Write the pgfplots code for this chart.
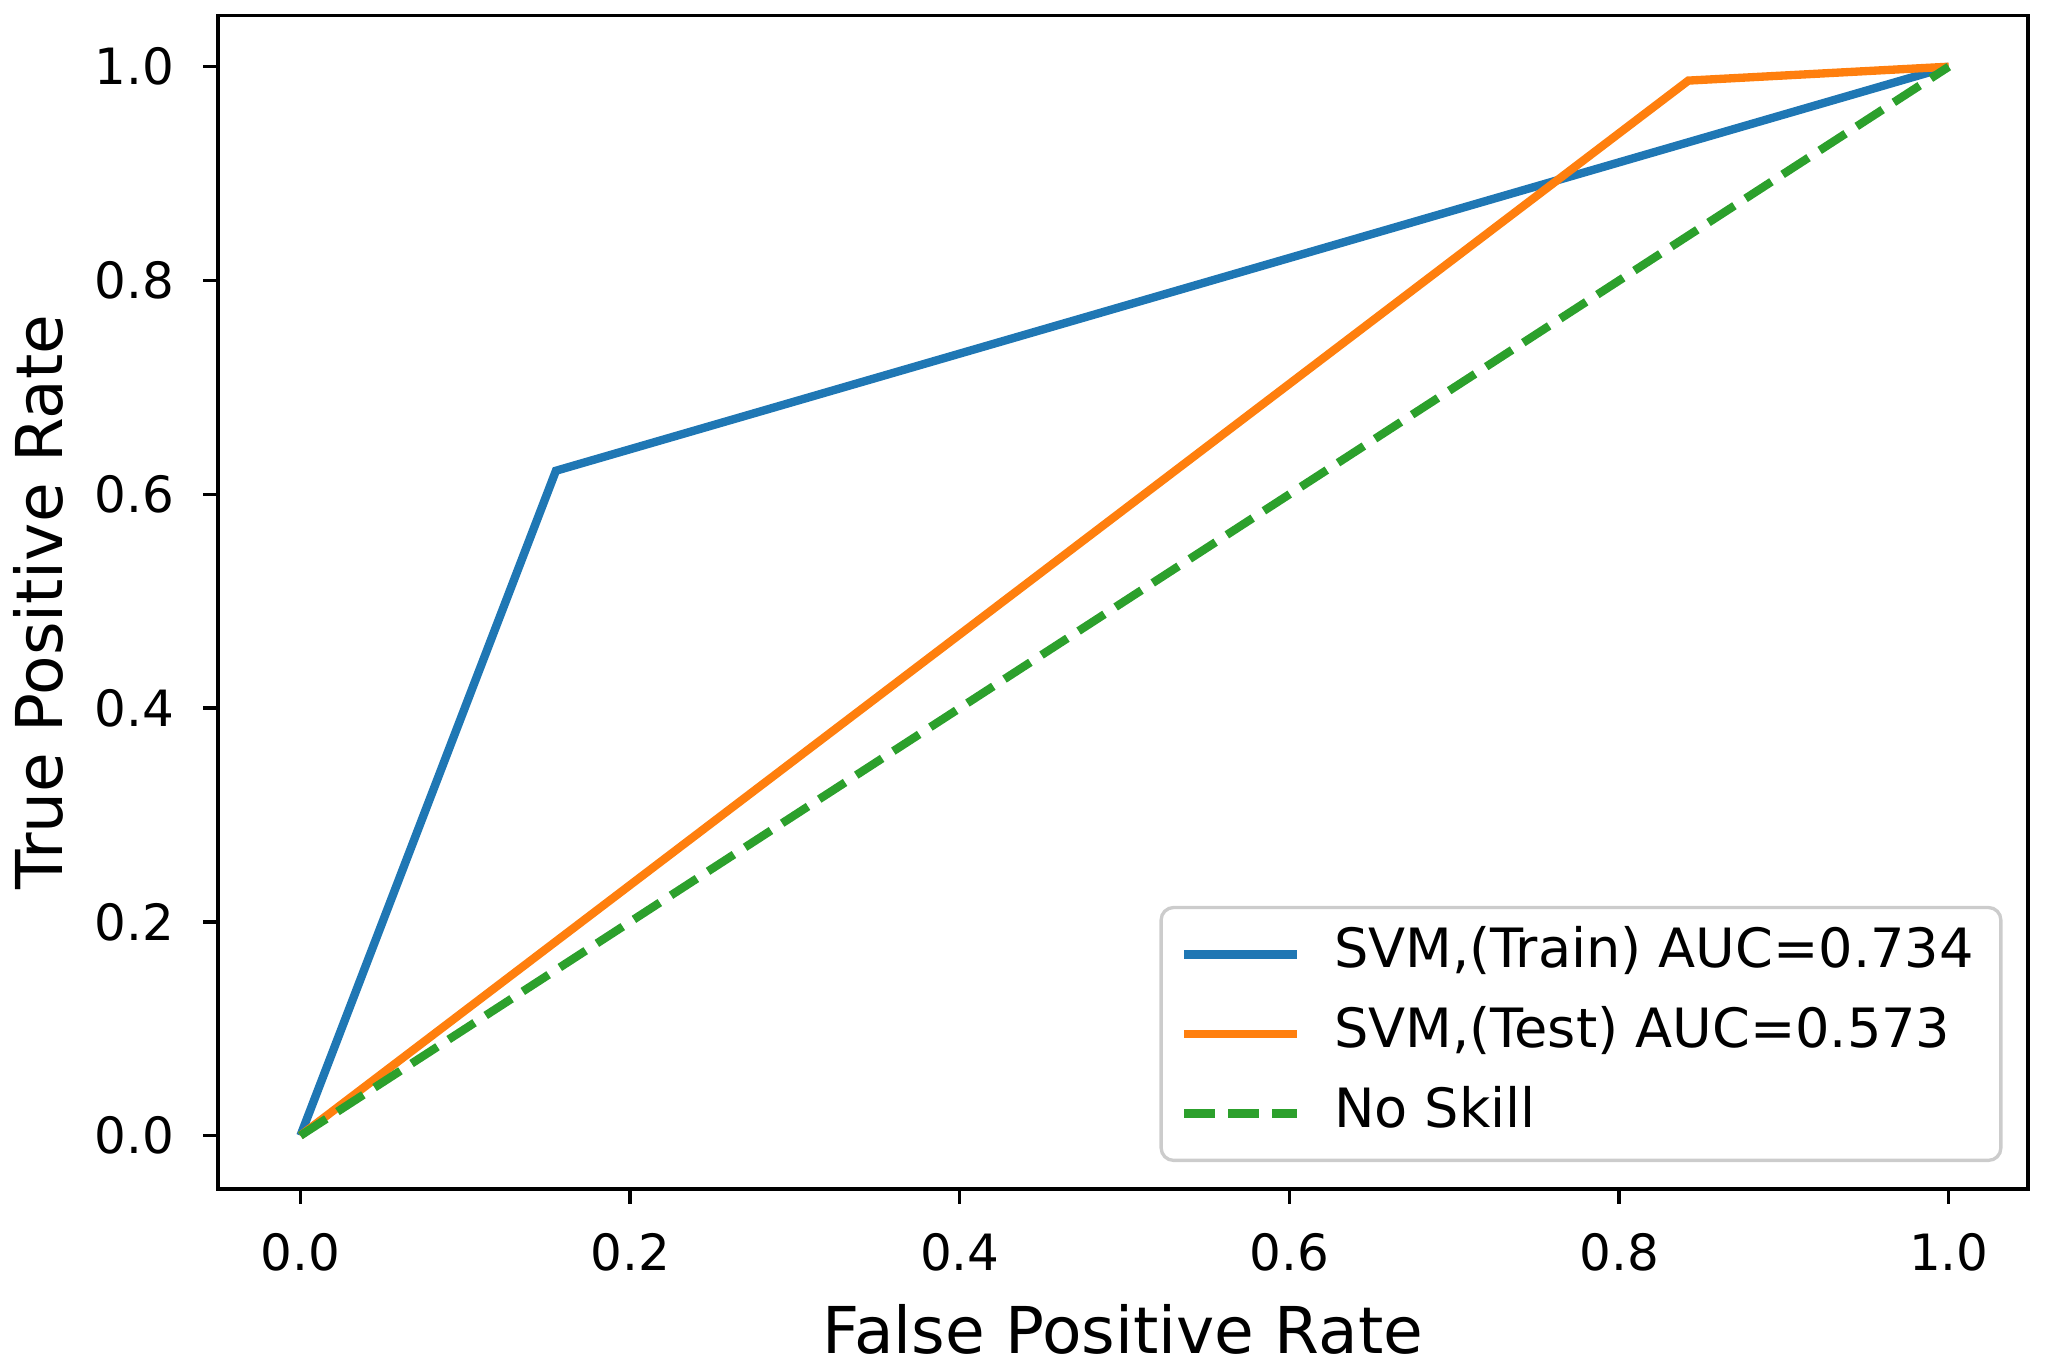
\documentclass[border=0pt]{standalone}
\usepackage{pgfplots}
\pgfplotsset{compat=1.18}
\usepackage{fontspec}
\setmainfont{DejaVu Sans}
\definecolor{c0}{HTML}{1F77B4}
\definecolor{c1}{HTML}{FF7F0E}
\definecolor{c2}{HTML}{2CA02C}
\begin{document}
\begin{tikzpicture}
\begin{axis}[
  scale only axis,
  width=434.4pt, height=281.7pt,
  xmin=-0.05, xmax=1.048, ymin=-0.05, ymax=1.048,
  xtick={0,0.2,...,1.0}, ytick={0,0.2,...,1.0},
  axis line style={line width=0.8pt},
  tick style={line width=0.8pt, black},
  tick align=outside, major tick length=3.5pt,
  xtick pos=bottom, ytick pos=left,
  /pgf/number format/assume math mode=true,
  /pgf/number format/fixed, /pgf/number format/fixed zerofill,
  /pgf/number format/precision=1,
  tick label style={font=\fontsize{12}{14}\selectfont},
  xticklabel style={yshift=-3.5pt},
  yticklabel style={xshift=-3.5pt},
  xlabel={False Positive Rate}, ylabel={True Positive Rate},
  every axis x label/.style={at={(axis description cs:0.5,0)}, yshift=-33.8pt, anchor=center, font=\fontsize{15.5}{18}\selectfont},
  every axis y label/.style={at={(axis description cs:0,0.5)}, xshift=-43pt, rotate=90, anchor=center, font=\fontsize{15.5}{18}\selectfont},
  legend cell align=left,
  legend image code/.code={\draw[#1] (0pt,0pt) -- (27pt,0pt);},
  legend style={at={(0.986,0.023)}, anchor=south east,
    draw=black!20, line width=0.8pt, rounded corners=3pt, fill=white, fill opacity=0.8, text opacity=1,
    font=\fontsize{13}{15}\selectfont,
    nodes={text height=9.5pt, text depth=3pt, inner ysep=3.3pt},
    inner xsep=4.5pt, inner ysep=1.7pt, row sep=0pt,
    /tikz/every odd column/.append style={column sep=6pt}},
]
\addplot[c0, line width=2pt] coordinates {(0,0) (0.155,0.622) (1,1)};
\addlegendentry{SVM,(Train) AUC=0.734}
\addplot[c1, line width=2pt] coordinates {(0,0) (0.842,0.987) (1,1)};
\addlegendentry{SVM,(Test) AUC=0.573}
\addplot[c2, line width=2pt, dash pattern=on 7.4pt off 3.2pt] coordinates {(0,0) (1,1)};
\addlegendentry{No Skill}
\end{axis}
\path (current axis.south west) ++(-52.3pt,-42.4pt) rectangle ++(490.8pt,327.8pt);
\end{tikzpicture}
\end{document}
